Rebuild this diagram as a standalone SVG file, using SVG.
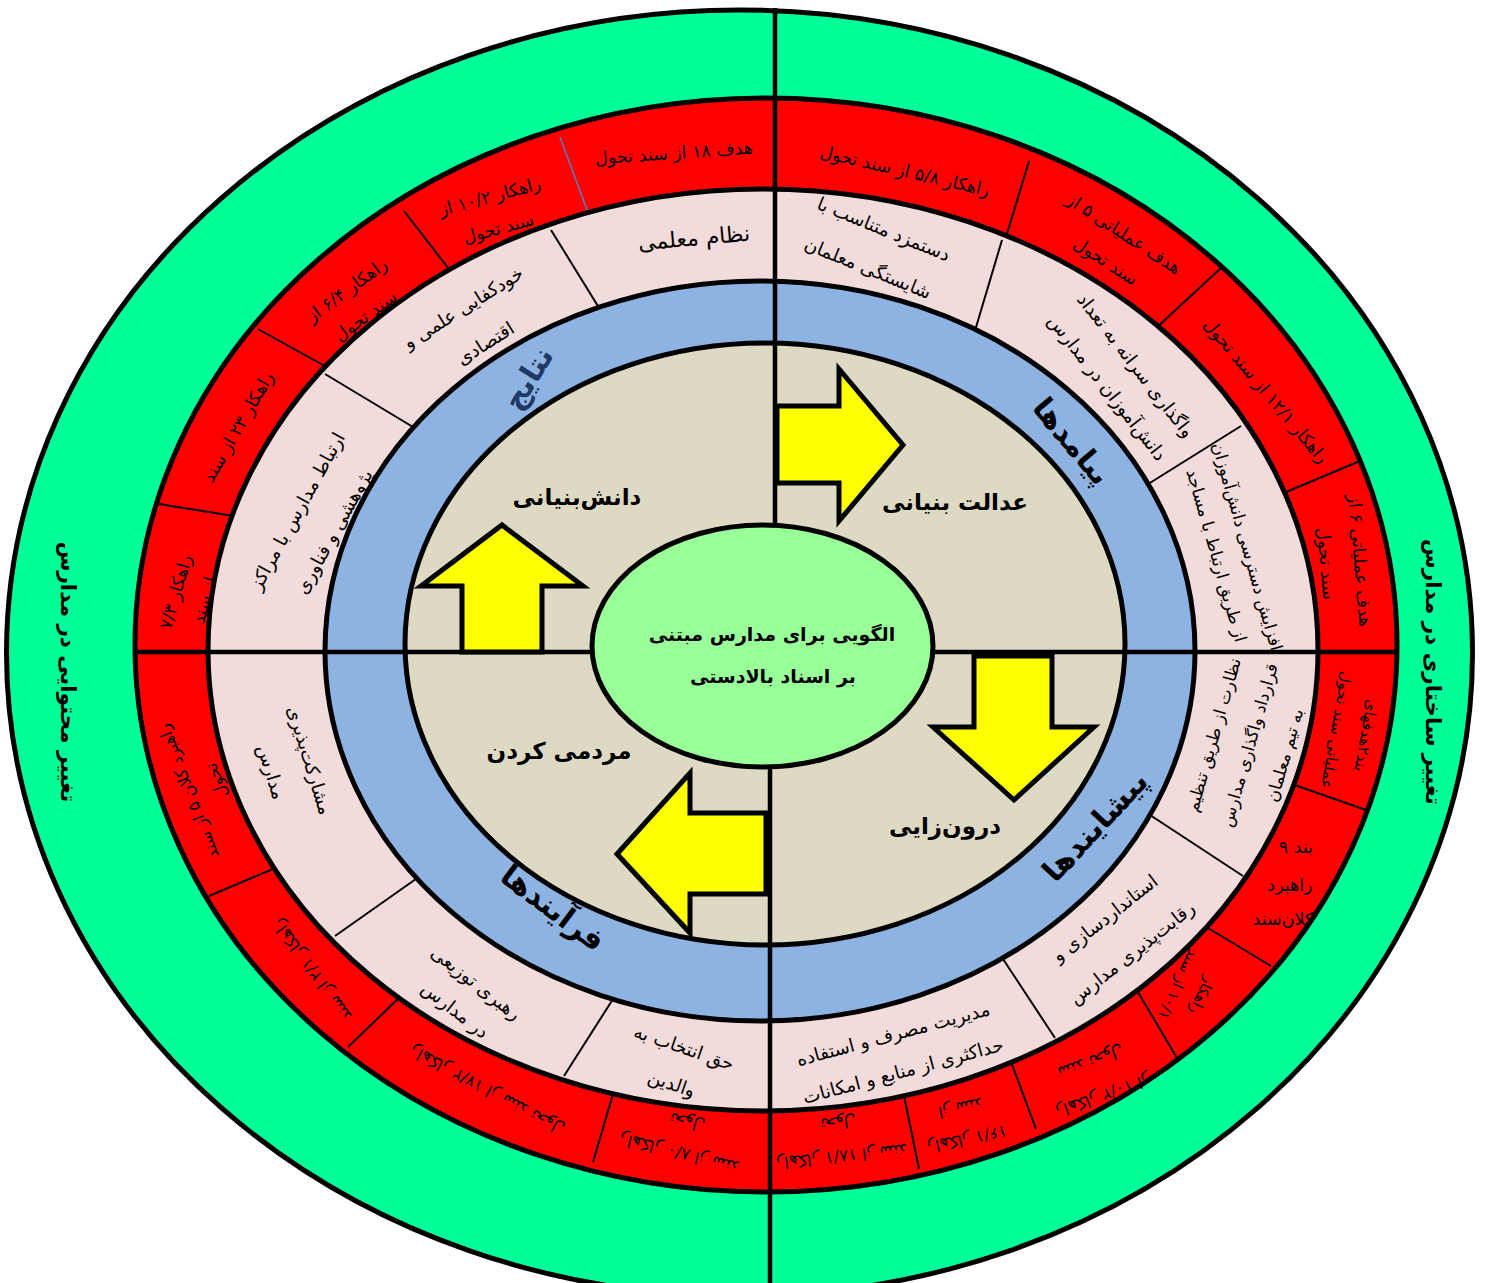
<svg xmlns="http://www.w3.org/2000/svg" width="1487" height="1283" viewBox="0 0 1487 1283">
<style>
text{font-family:"DejaVu Sans",sans-serif;direction:rtl;text-anchor:middle;dominant-baseline:central;fill:#000}
.r{font-size:17.5px}
.rb{font-size:16.5px}
.p{font-size:18.5px}
.lb{font-size:30px;font-weight:bold}
.cl{font-size:23px;font-weight:bold}
.ct{font-size:19px;font-weight:bold}
.gt{font-size:21.5px;font-weight:bold}
.ring{stroke:#000;stroke-width:5}
.sep{stroke:#000;stroke-width:2;fill:none}
.axis{stroke:#000;stroke-width:4.5}
.arrow{fill:#FFFF00;stroke:#000;stroke-width:5;stroke-linejoin:miter}
</style>
<g id="ring-green">
<ellipse cx="739.5" cy="653" rx="733" ry="643" fill="#00FF99" class="ring"/>
<text class="gt" transform="translate(68,672) rotate(90)">تغییر محتوایی در مدارس</text>
<text class="gt" transform="translate(1433,672) rotate(90)">تغییر ساختاری در مدارس</text>
</g>
<g id="ring-red">
<ellipse cx="766" cy="645" rx="631" ry="547" fill="#FF0000" class="ring"/>
<g class="sep">
<line x1="404" y1="211" x2="452" y2="273"/>
<line x1="258" y1="329" x2="332" y2="370"/>
<line x1="159" y1="504" x2="240" y2="517"/>
<line x1="1029" y1="161" x2="1006" y2="237"/>
<line x1="1221" y1="268" x2="1154" y2="330"/>
<line x1="1360" y1="461" x2="1279" y2="495"/>
<line x1="1366" y1="810" x2="1289" y2="783"/>
<line x1="1271" y1="966" x2="1203" y2="925"/>
<line x1="1177" y1="1058" x2="1135" y2="987"/>
<line x1="1036" y1="1129" x2="1010" y2="1059"/>
<line x1="919" y1="1169" x2="902" y2="1086"/>
<line x1="209" y1="896" x2="280" y2="866"/>
<line x1="348" y1="1047" x2="402" y2="995"/>
<line x1="593" y1="1162" x2="613" y2="1094"/>
</g>
<line x1="560" y1="137" x2="590" y2="218" stroke="#4F81BD" stroke-width="1.5"/>
<text class="r" transform="translate(674,153) rotate(-4)">هدف ۱۸ از سند تحول</text>
<text class="r" transform="translate(494,212) rotate(-15)"><tspan x="0" y="-16">راهکار ۱۰/۲ از</tspan><tspan x="0" y="17">سند تحول</tspan></text>
<text class="r" transform="translate(356,303) rotate(-36)"><tspan x="0" y="-16">راهکار ۶/۴ از</tspan><tspan x="0" y="16">سند تحول</tspan></text>
<text class="r" transform="translate(238,427) rotate(-60)">راهکار ۲۳ از سند</text>
<text class="r" transform="translate(190,596) rotate(-74)"><tspan x="0" y="-15">راهکار ۷/۳</tspan><tspan x="0" y="15">از سند</tspan></text>
<text class="r" transform="translate(905,171) rotate(13)">راهکار ۵/۸ از سند تحول</text>
<text class="r" transform="translate(1115,247) rotate(33)"><tspan x="0" y="-16">هدف عملیاتی ۵ از</tspan><tspan x="0" y="17">سند تحول</tspan></text>
<text class="r" transform="translate(1266,391) rotate(50)">راهکار ۱۲/۱ از سند تحول</text>
<text class="r" transform="translate(1343,562) rotate(85)"><tspan x="0" y="-17">هدف عملیاتی ۶ از</tspan><tspan x="0" y="17">سند تحول</tspan></text>
<text class="r" style="font-size:15.5px" transform="translate(1351,733) rotate(100)"><tspan x="0" y="-15">بند۲هدفهای</tspan><tspan x="0" y="15">عملیاتی سند تحول</tspan></text>
<text class="r"><tspan x="1296" y="847">بند ۹</tspan><tspan x="1290" y="885">راهبرد</tspan><tspan x="1283" y="919">کلان‌سند</tspan></text>
<text class="rb" style="font-size:15px" transform="translate(1190,990) rotate(115)"><tspan x="0" y="-13">راهکار</tspan><tspan x="0" y="13">۱۰/۱ از سند</tspan></text>
<text class="rb" transform="translate(1097,1079) rotate(160)"><tspan x="0" y="-18">راهکار ۱۰/۲ از</tspan><tspan x="0" y="18">سند تحول</tspan></text>
<text class="rb" transform="translate(964,1124) rotate(168)"><tspan x="0" y="-16">راهکار ۱۶/۱</tspan><tspan x="0" y="16">از سند</tspan></text>
<text class="rb" transform="translate(840,1140) rotate(174)"><tspan x="0" y="-17">راهکار ۱۸/۱ از سند</tspan><tspan x="0" y="17">تحول</tspan></text>
<text class="rb" transform="translate(683,1138) rotate(194)"><tspan x="0" y="-16">راهکار ۸/۰ از سند</tspan><tspan x="0" y="16">تحول</tspan></text>
<text class="rb" transform="translate(487,1090) rotate(208)">راهکار ۱۷/۲ از سند تحول</text>
<text class="rb" transform="translate(312,970) rotate(234)">راهکار ۲/۱ از سند</text>
<text class="rb" transform="translate(202,786) rotate(249)"><tspan x="0" y="-15">راهبرد کلان ۵ از سند</tspan><tspan x="0" y="15">تحول</tspan></text>
</g>
<g id="ring-pink">
<ellipse cx="763" cy="650" rx="555" ry="461" fill="#F2DCDB" class="ring"/>
<g class="sep">
<line x1="551" y1="230" x2="601" y2="311"/>
<line x1="325" y1="374" x2="418" y2="430"/>
<line x1="1002" y1="240" x2="974" y2="334"/>
<line x1="1241" y1="426" x2="1145" y2="486"/>
<line x1="1243" y1="876" x2="1150" y2="815"/>
<line x1="1055" y1="1038" x2="1003" y2="959"/>
<line x1="335" y1="936" x2="423" y2="874"/>
<line x1="564" y1="1076" x2="613" y2="999"/>
</g>
<text class="p" style="font-size:22px" transform="translate(694,238) rotate(-5)">نظام معلمی</text>
<text class="p" transform="translate(474,325) rotate(-32)"><tspan x="0" y="-21">خودکفایی علمی و</tspan><tspan x="0" y="21">اقتصادی</tspan></text>
<text class="p" transform="translate(315,521) rotate(-61)"><tspan x="0" y="-21">ارتباط مدارس با مراکز</tspan><tspan x="0" y="21">پژوهشی و فناوری</tspan></text>
<text class="p" transform="translate(876,248) rotate(22)"><tspan x="0" y="-21">دستمزد متناسب با</tspan><tspan x="0" y="21">شایستگی معلمان</tspan></text>
<text class="p" transform="translate(1122,376) rotate(52)"><tspan x="0" y="-18">واگذاری سرانه به تعداد</tspan><tspan x="0" y="18">دانش‌آموزان در مدارس</tspan></text>
<text class="p" style="font-size:17px" transform="translate(1232,551) rotate(74)"><tspan x="0" y="-16">افزایش دسترسی دانش‌آموزان</tspan><tspan x="0" y="16">از طریق ارتباط با مساجد</tspan></text>
<text class="p" style="font-size:17px" transform="translate(1249,745) rotate(-74)"><tspan x="0" y="-37">نظارت از طریق تنظیم</tspan><tspan x="0" y="0">قرارداد واگذاری مدارس</tspan><tspan x="0" y="37">به تیم معلمان</tspan></text>
<text class="p" transform="translate(1118,935) rotate(-38)"><tspan x="0" y="-22">استانداردسازی و</tspan><tspan x="0" y="22">رقابت‌پذیری مدارس</tspan></text>
<text class="p" transform="translate(898,1052) rotate(-15)"><tspan x="0" y="-19">مدیریت مصرف و استفاده</tspan><tspan x="0" y="19">حداکثری از منابع و امکانات</tspan></text>
<text class="p" transform="translate(291,766) rotate(73)"><tspan x="0" y="-20">مشارکت‌پذیری</tspan><tspan x="0" y="20">مدارس</tspan></text>
<text class="p" transform="translate(466,996) rotate(38)"><tspan x="0" y="-17">رهبری توزیعی</tspan><tspan x="0" y="17">در مدارس</tspan></text>
<text class="p" transform="translate(678,1065) rotate(19)"><tspan x="0" y="-19">حق انتخاب به</tspan><tspan x="0" y="19">والدین</tspan></text>
</g>
<g id="ring-blue">
<ellipse cx="760" cy="651" rx="435" ry="370" fill="#8DB3E2" class="ring"/>
</g>
<g id="ring-beige">
<ellipse cx="765" cy="644" rx="360" ry="301" fill="#DDD9C3" class="ring"/>
</g>
<g id="blue-labels">
<text class="lb" style="fill:#1F3864" transform="translate(528,378) rotate(-58)">نتایج</text>
<text class="lb" transform="translate(1072,441) rotate(50)">پیامدها</text>
<text class="lb" transform="translate(1095,826) rotate(-47)">پیشایندها</text>
<text class="lb" transform="translate(553,908) rotate(37)">فرآیندها</text>
</g>
<g id="connectors">
<g class="axis">
<line x1="775" y1="8" x2="775" y2="530"/>
<line x1="770" y1="760" x2="770" y2="1283"/>
<line x1="133" y1="652" x2="595" y2="652"/>
<line x1="930" y1="652" x2="1399" y2="652"/>
</g>
<polygon class="arrow" points="462,652 462,586 421,586 502,525 583,586 542,586 542,652"/>
<polygon class="arrow" points="777,406 839,406 839,369 903,445 839,521 839,483 777,483"/>
<polygon class="arrow" points="974,656 1052,656 1052,727 1094,727 1014,800 933,727 974,727"/>
<polygon class="arrow" points="766,813 690,813 690,773 617,854 690,933 690,894 766,894"/>
</g>
<g id="center">
<ellipse cx="762.5" cy="646" rx="170.5" ry="121" fill="#99FF99" class="ring"/>
<text class="ct"><tspan x="772" y="634">الگویی برای مدارس مبتنی</tspan><tspan x="773" y="676">بر اسناد بالادستی</tspan></text>
</g>
<g id="quadrant-labels">
<text class="cl" x="577" y="497">دانش‌بنیانی</text>
<text class="cl" x="955" y="502">عدالت بنیانی</text>
<text class="cl" x="559" y="751">مردمی کردن</text>
<text class="cl" x="945" y="826">درون‌زایی</text>
</g>
</svg>
